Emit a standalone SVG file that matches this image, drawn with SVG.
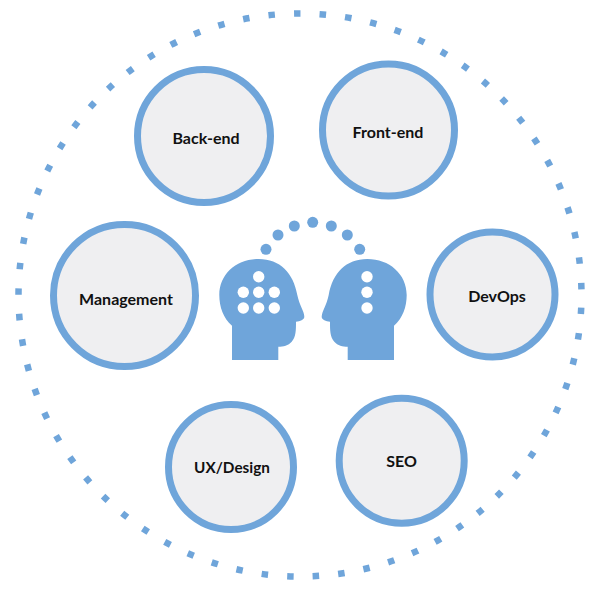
<svg xmlns="http://www.w3.org/2000/svg" width="600" height="600" viewBox="0 0 600 600">
<style>
.n{fill:#efeff1;stroke:#6fa5da;stroke-width:7}
.t{font-family:"Lato","Liberation Sans",sans-serif;font-weight:700;font-size:16px;fill:#111;text-anchor:middle}
.h{fill:#6fa5da}
.w{fill:#fff}
</style>
<defs>
<path id="head" d="M232 360V325.700C223.300 318.300 219.300 306.700 219.300 295C219.300 274 236.700 259 258.700 259C280 259 293.500 273 297.300 295C299.300 305 304.300 311.700 304.300 316.700C304.300 320 300 321 296 321.700C296 330 296 336.700 291.700 341.700C288.300 345.700 283.300 346.700 278.300 346.700V360Z"/>
</defs>
<rect width="600" height="600" fill="#fff"/>
<g id="ring"><circle cx="300" cy="295" r="281.500" fill="none" stroke="#6fa5da" stroke-width="6.500" stroke-dasharray="6.500 19.134" stroke-dashoffset="-12.650"/></g>
<g id="connectors">
<circle class="h" cx="266" cy="249.300" r="5.500"/>
<circle class="h" cx="278" cy="235" r="5.500"/>
<circle class="h" cx="294.300" cy="226" r="5.500"/>
<circle class="h" cx="312.700" cy="222.300" r="5.500"/>
<circle class="h" cx="331.300" cy="226" r="5.500"/>
<circle class="h" cx="347.300" cy="235" r="5.500"/>
<circle class="h" cx="359.700" cy="249.300" r="5.500"/>
</g>
<g id="head-left"><use href="#head" class="h"/>
<circle class="w" cx="258.700" cy="276.700" r="5.700"/>
<circle class="w" cx="243.300" cy="292.300" r="5.700"/>
<circle class="w" cx="258.700" cy="292.300" r="5.700"/>
<circle class="w" cx="274.300" cy="292.300" r="5.700"/>
<circle class="w" cx="243.300" cy="308" r="5.700"/>
<circle class="w" cx="258.700" cy="308" r="5.700"/>
<circle class="w" cx="274.300" cy="308" r="5.700"/>
</g>
<g id="head-right"><use href="#head" class="h" transform="matrix(-1 0 0 1 626 0)"/>
<circle class="w" cx="367" cy="276.700" r="5.700"/>
<circle class="w" cx="367" cy="292.300" r="5.700"/>
<circle class="w" cx="367" cy="308" r="5.700"/>
</g>
<g id="back-end"><circle class="n" cx="204" cy="136" r="66.500"/><text class="t" x="206" y="144">Back-end</text></g>
<g id="front-end"><circle class="n" cx="388.500" cy="130" r="66"/><text class="t" x="388" y="138">Front-end</text></g>
<g id="management"><circle class="n" cx="124.500" cy="295.500" r="71"/><text class="t" x="126" y="305">Management</text></g>
<g id="devops"><circle class="n" cx="492.500" cy="294.500" r="62.500"/><text class="t" x="497" y="302">DevOps</text></g>
<g id="ux-design"><circle class="n" cx="231" cy="467" r="62.500"/><text class="t" x="232" y="473" style="font-size:15.300px">UX/Design</text></g>
<g id="seo"><circle class="n" cx="401.700" cy="460.800" r="62.500"/><text class="t" x="401.500" y="467">SEO</text></g>
</svg>
